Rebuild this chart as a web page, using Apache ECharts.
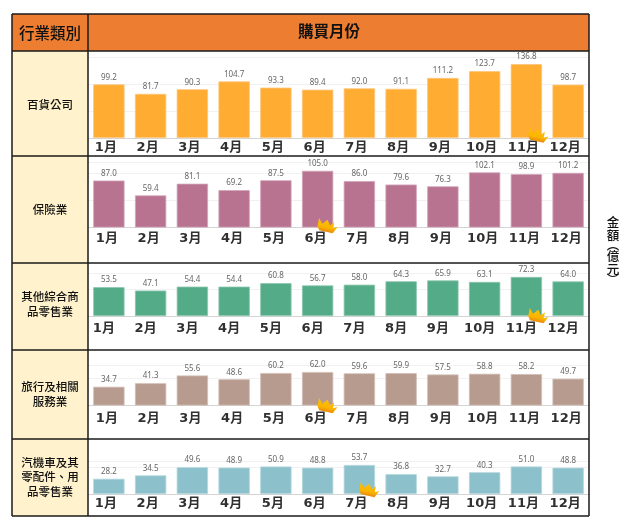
<!DOCTYPE html>
<html>
<head>
<meta charset="utf-8">
<style>html,body{margin:0;padding:0;background:#fff}#chart{width:628px;height:521px}</style>
<script src="https://cdn.jsdelivr.net/npm/echarts@6/dist/echarts.min.js"></script>
</head>
<body>
<div id="chart"></div>
<script>
// Monthly purchase amounts (億元) per industry
const months = ['1月','2月','3月','4月','5月','6月','7月','8月','9月','10月','11月','12月'];
const departmentStores = [99.2,81.7,90.3,104.7,93.3,89.4,92.0,91.1,111.2,123.7,136.8,98.7];
const insurance = [87.0,59.4,81.1,69.2,87.5,105.0,86.0,79.6,76.3,102.1,98.9,101.2];
const otherRetail = [53.5,47.1,54.4,54.4,60.8,56.7,58.0,64.3,65.9,63.1,72.3,64.0];
const travel = [34.7,41.3,55.6,48.6,60.2,62.0,59.6,59.9,57.5,58.8,58.2,49.7];
const autoParts = [28.2,34.5,49.6,48.9,50.9,48.8,53.7,36.8,32.7,40.3,51.0,48.8];
const industryNames = ['百貨公司','保險業','其他綜合商\n品零售業','旅行及相關\n服務業','汽機車及其\n零配件、用\n品零售業'];

// Panel layout: shared scale of 0.54 px per 億元 so bar heights compare across rows
const PX_PER_UNIT = 0.54;
const panels = [
  {values: departmentStores, color: '#FFAC33', border: '#FFC477', base: 138,   yMax: 150, margin: 3, shift: 6, nameY: 105, crown: [12, -2.5]},
  {values: insurance,        color: '#B87390', border: '#D3A5B9', base: 227.5, yMax: 120, margin: 5, shift: 4, nameY: 210, crown: [10, -1.5]},
  {values: otherRetail,      color: '#54AB88', border: '#8CC7AE', base: 316,   yMax: 80,  margin: 6, shift: 10, nameY: 304, crown: [12, 0]},
  {values: travel,           color: '#B89B8F', border: '#D2BEB6', base: 405.5, yMax: 75,  margin: 7, shift: 4, nameY: 394, crown: [10, 0.5]},
  {values: autoParts,        color: '#8CC0CA', border: '#B4D7DE', base: 494,   yMax: 60,  margin: 3, shift: 6, nameY: 477, crown: [10, -4]}
];

// Table frame
const LEFT = 12, DIVIDER = 88, RIGHT = 589, TOP = 14, HEADER_BOTTOM = 51, BOTTOM = 516;
const rowLines = [156, 263, 350, 439];
const CJK = '"Noto Sans CJK TC","Noto Sans",sans-serif';
const LINE = {stroke: '#1a1a1a', lineWidth: 1.5};

const rect = (x, y, w, h, fill) => ({type: 'rect', silent: true, z: 0, shape: {x, y, width: w, height: h}, style: {fill}});
const line = (x1, y1, x2, y2) => ({type: 'line', silent: true, z: 20, shape: {x1, y1, x2, y2}, style: LINE});
const text = (x, y, t, size, weight, lh) => ({
  type: 'text', silent: true, z: 21, x, y,
  style: {text: t, fill: '#111', font: weight + ' ' + size + 'px ' + CJK, align: 'center', verticalAlign: 'middle', lineHeight: lh || size}
});

// Vertical unit caption, one glyph per entry
const unitCaption = [['金', 222, 12.5], ['額', 235.5, 12.5], ['︵', 245, 12.5], ['億', 256.5, 12.5], ['元', 269.5, 12.5], ['︶', 279, 12.5]];

const graphics = [
  rect(LEFT, TOP, RIGHT - LEFT, HEADER_BOTTOM - TOP, '#ED7D31'),
  rect(LEFT, HEADER_BOTTOM, DIVIDER - LEFT, BOTTOM - HEADER_BOTTOM, '#FFF2CC'),
  line(LEFT, TOP, RIGHT, TOP), line(LEFT, HEADER_BOTTOM, RIGHT, HEADER_BOTTOM), line(LEFT, BOTTOM, RIGHT, BOTTOM),
  line(LEFT, TOP, LEFT, BOTTOM), line(DIVIDER, TOP, DIVIDER, BOTTOM), line(RIGHT, TOP, RIGHT, BOTTOM),
  ...rowLines.map(y => line(LEFT, y, RIGHT, y)),
  text(50, 33, '行業類別', 15.5, 500),
  text(329, 31, '購買月份', 15.5, 700),
  ...unitCaption.map(([t, y, size]) => text(613, y, t, size, 500)),
  ...panels.map((p, i) => text(50, p.nameY, industryNames[i], 11.5, 500, 14.5))
];

// Crown outline marking each row's highest month: three spikes on a solid band, brim to the right
const crownPath = 'path://M0 0 L5 5 L10 0 L14 5 L18 1 L18 7 L23 5 L19 12 L3 12 L0 8 Z';

const grids = [], xAxes = [], yAxes = [], series = [];
panels.forEach((p, i) => {
  const height = p.yMax * PX_PER_UNIT;
  grids.push({left: 88, width: 501, top: p.base - height, height});
  xAxes.push({
    type: 'category', gridIndex: i, data: months,
    axisLine: {lineStyle: {color: '#D4D4D4', width: 1}},
    axisTick: {show: false},
    axisLabel: {
      margin: p.margin, interval: 0, color: '#303030',
      fontFamily: '"DejaVu Sans","Noto Sans CJK TC",sans-serif', fontSize: 13, fontWeight: 'bold',
      padding: [0, p.shift, 0, 0]
    }
  });
  yAxes.push({
    type: 'value', gridIndex: i, min: 0, max: p.yMax, interval: 50,
    axisLine: {show: false}, axisTick: {show: false}, axisLabel: {show: false},
    splitLine: {lineStyle: {color: '#F1F1F1', width: 1}}
  });
  series.push({
    type: 'bar', xAxisIndex: i, yAxisIndex: i, data: p.values, barWidth: '75%',
    itemStyle: {color: p.color, borderColor: p.border, borderWidth: 0.8},
    label: {
      show: true, position: 'top', distance: 3, color: '#666',
      fontFamily: '"Noto Sans",sans-serif', fontSize: 8,
      formatter: d => d.value.toFixed(1)
    }
  });
  const top = p.values.indexOf(Math.max(...p.values));
  series.push({
    type: 'scatter', xAxisIndex: i, yAxisIndex: i, z: 10, clip: false, silent: true,
    data: [[top, 0]],
    symbol: crownPath, symbolSize: [20, 12], symbolRotate: -12, symbolOffset: p.crown,
    itemStyle: {
      opacity: 1,
      color: new echarts.graphic.LinearGradient(0, 0, 0, 1, [
        {offset: 0, color: '#FFC000'}, {offset: 0.65, color: '#FBB400'}, {offset: 1, color: '#E98A0C'}
      ])
    }
  });
});

const chart = echarts.init(document.getElementById('chart'), null, {renderer: 'canvas'});
chart.setOption({
  animation: false,
  backgroundColor: '#fff',
  graphic: {elements: graphics},
  grid: grids, xAxis: xAxes, yAxis: yAxes, series
});
</script>
</body>
</html>
